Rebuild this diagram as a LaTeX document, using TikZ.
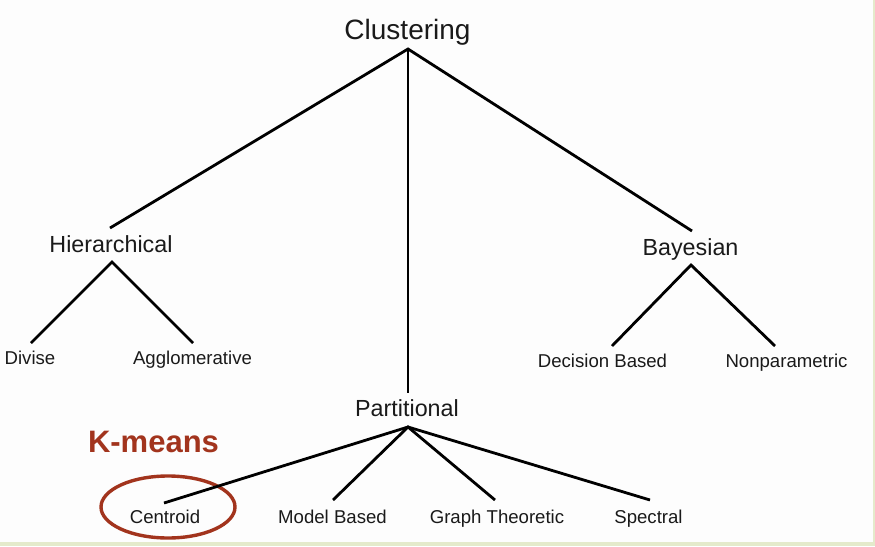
\documentclass[tikz,border=0pt]{standalone}
\usepackage{fontspec}
\setmainfont{Liberation Sans}
\definecolor{bg}{HTML}{FDFDFD}
\definecolor{edge}{HTML}{E4EACB}
\definecolor{ink}{HTML}{1A1A1A}
\definecolor{kred}{HTML}{A2341D}
\tikzset{
  lvlone/.style={anchor=base, inner sep=0pt, text=ink, font=\fontsize{28}{30}\selectfont},
  lvltwo/.style={anchor=base, inner sep=0pt, text=ink, font=\fontsize{23.3}{26}\selectfont},
  lvlthree/.style={anchor=base, inner sep=0pt, text=ink, font=\fontsize{18.6}{21}\selectfont},
  branch/.style={draw=black, line width=2.8pt},
}
\begin{document}
\begin{tikzpicture}[x=1pt,y=-1pt]
\useasboundingbox (0,0) rectangle (875,546);
\fill[edge] (0,0) rectangle (875,546);
\fill[bg] (0,0) rectangle (873,542);
% text nodes
\node[lvlone] (clust) at (407.5,39) {Clustering};
\node[lvltwo] (hier) at (111,252) {Hierarchical};
\node[lvltwo] (bayes) at (690.5,255) {Bayesian};
\node[lvltwo] (part) at (407,416) {Partitional};
\node[lvlthree] (divise) at (30,364) {Divise};
\node[lvlthree] (agglo) at (192.5,364) {Agglomerative};
\node[lvlthree] (decis) at (602.5,367) {Decision Based};
\node[lvlthree] (nonpar) at (786.5,367) {Nonparametric};
\node[lvlthree] (centr) at (165,523) {Centroid};
\node[lvlthree] (model) at (332.5,523) {Model Based};
\node[lvlthree] (graph) at (497,523) {Graph Theoretic};
\node[lvlthree] (spect) at (648.5,523) {Spectral};
\node[anchor=base, inner sep=0pt, text=kred, font=\fontsize{31}{33}\selectfont\bfseries] (kmeans) at (153.5,452) {K-means};
% connector points
\coordinate (clustB) at (408,49);
\coordinate (hierT) at (110,228);
\coordinate (partT) at (408,393);
\coordinate (bayesT) at (692,231);
\coordinate (hierB) at (112,262);
\coordinate (divT) at (31,343);
\coordinate (aggT) at (193,343);
\coordinate (bayesB) at (691,265);
\coordinate (decT) at (612,346);
\coordinate (nonT) at (775,346);
\coordinate (partB) at (408,427);
\coordinate (cenT) at (164,503);
\coordinate (modT) at (333,500);
\coordinate (graT) at (495,500);
\coordinate (speT) at (650,500);
% highlight ellipse
\draw[kred, line width=3.4pt] (168,507) ellipse [x radius=67, y radius=31];
% branches
\draw[branch] (hierT) -- (clustB) -- (bayesT);
\draw[branch] (clustB) -- (partT);
\draw[branch] (divT) -- (hierB) -- (aggT);
\draw[branch] (decT) -- (bayesB) -- (nonT);
\draw[branch] (cenT) -- (partB) -- (speT);
\draw[branch] (modT) -- (partB) -- (graT);
\end{tikzpicture}
\end{document}
